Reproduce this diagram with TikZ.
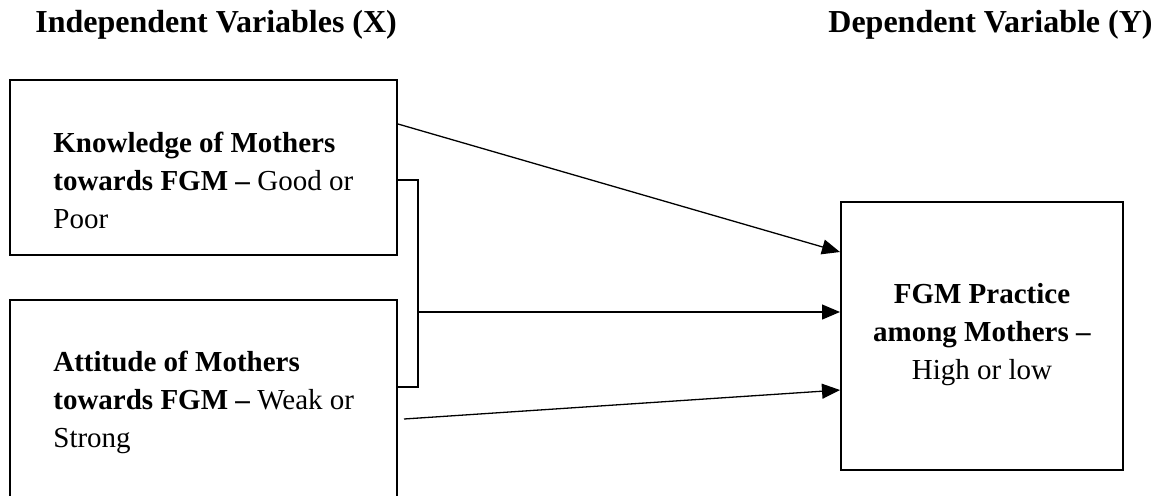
\documentclass[tikz,border=0pt]{standalone}
\usepackage{fontspec}
\setmainfont{Liberation Serif}
\usetikzlibrary{arrows.meta,calc}

\begin{document}
\begin{tikzpicture}[x=0.5pt, y=-0.5pt,
            box/.style={draw, line width=1pt, inner sep=0pt},
            txt/.style={inner sep=0pt, align=left, font=\fontsize{14.5}{19}\selectfont},
            head/.style={inner sep=0pt, anchor=base west, font=\fontsize{16}{19}\selectfont\bfseries},
            link/.style={line width=0.65pt},
            arr/.style={line width=0.65pt, -{Triangle[length=9pt, width=7.5pt]}}]
            \useasboundingbox (0,0) rectangle (1163,495);
            \node[head] (indep) at (35,32) {Independent Variables (X)};
            \node[head] (dep) at (828,32) {Dependent Variable (Y)};
            \node[box, minimum width=193.5pt, minimum height=87.5pt] (know) at (203.5,167.5) {};
            \node[box, minimum width=193.5pt, minimum height=105pt] (att) at (203.5,405) {};
            \node[box, minimum width=141pt, minimum height=134pt] (fgm) at (982,336) {};
            \node[txt, anchor=north west] (knowtxt) at (53,132) {\textbf{Knowledge of Mothers}\\ \textbf{towards FGM –} Good or\\ Poor};
            \node[txt, anchor=north west] (atttxt) at (53,351) {\textbf{Attitude of Mothers}\\ \textbf{towards FGM –} Weak or\\ Strong};
            \node[txt, anchor=north, align=center] (fgmtxt) at (982,283) {\textbf{FGM Practice}\\ \textbf{among Mothers –}\\ High or low};
            \coordinate (jn) at (418,312);
            \draw[link] ($(know.north east)+(0,101)$) -| (jn) |- ($(att.north east)+(0,88)$);
            \draw[arr] (jn) -- (jn -| fgm.west);
            \draw[arr] ($(know.north east)+(0,45)$) -- ($(fgm.north west)+(0,51)$);
            \draw[arr] ($(att.north east)+(6,120)$) -- ($(fgm.north west)+(0,189)$);
        \end{tikzpicture}
\end{document}
